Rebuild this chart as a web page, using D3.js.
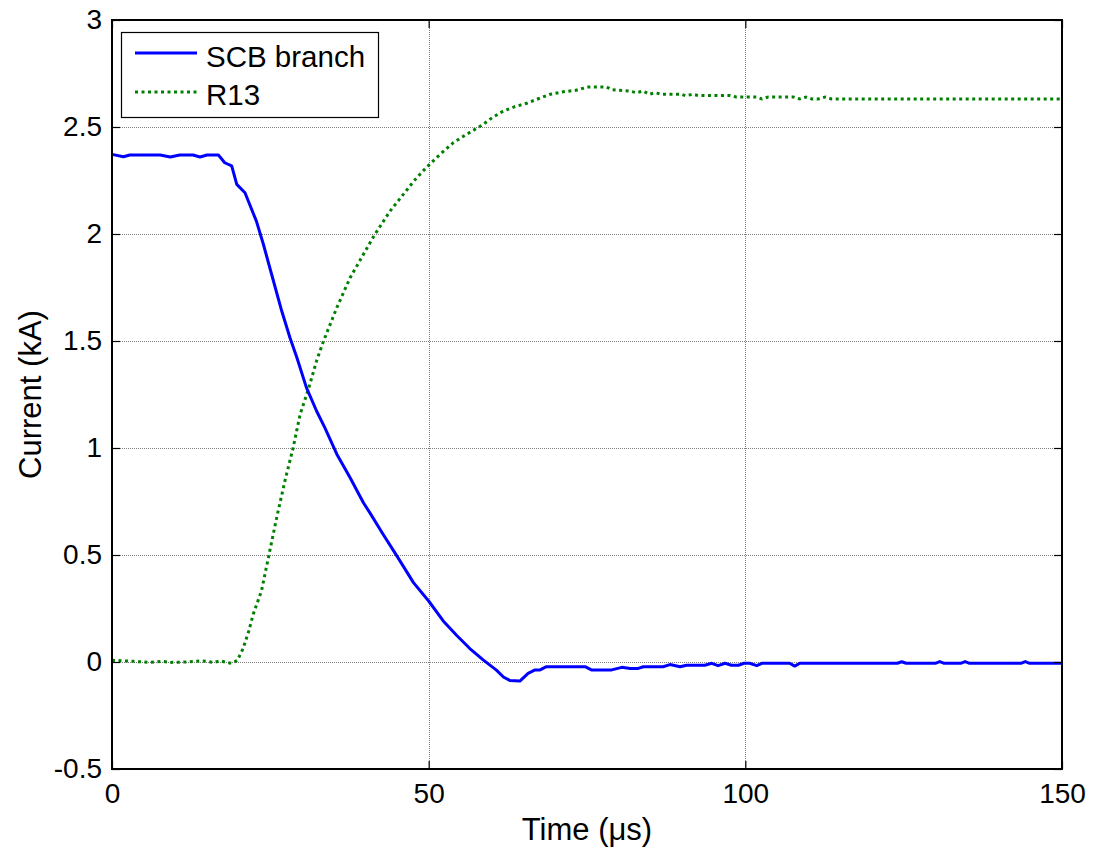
<!DOCTYPE html>
<html>
<head>
<meta charset="utf-8">
<script src="https://cdn.jsdelivr.net/npm/d3@7"></script>
<style>
  body { margin: 0; background: #fff; }
  text { font-family: Arial, "Liberation Sans", sans-serif; fill: #000; }
</style>
</head>
<body>
<svg id="chart" width="1094" height="847"></svg>
<script>
// ---- data ----
const scbTime = [0, 1.8, 2.8, 7.6, 9.2, 10.7, 12.8, 13.9, 15, 16.8, 17.8, 18.9, 19.7, 21, 22.8, 23.9, 25.2, 26.8, 28.1, 29.2, 30.7, 32.3, 33.6, 35.5, 37.6, 39.7, 40.7, 42.8, 45, 47.6, 50, 52.3, 54.4, 56.5, 58.6, 60.7, 61.8, 62.8, 64.4, 65.7, 66.8, 67.6, 68.6, 74.7, 75.7, 78.9, 80.5, 81.8, 83.1, 83.9, 87, 88.1, 89.7, 90.7, 93.6, 94.7, 95.7, 96.8, 97.8, 98.9, 99.8, 100.7, 101.8, 102.6, 105.5, 107, 107.8, 108.6, 124, 124.7, 125.4, 130, 130.7, 131.4, 134, 134.7, 135.4, 143.5, 144.2, 144.9, 150];
const scbCurrent = [2.372, 2.361, 2.369, 2.369, 2.36, 2.369, 2.369, 2.36, 2.369, 2.369, 2.333, 2.318, 2.232, 2.193, 2.06, 1.952, 1.812, 1.64, 1.515, 1.422, 1.282, 1.173, 1.095, 0.971, 0.861, 0.744, 0.698, 0.597, 0.495, 0.371, 0.285, 0.192, 0.125, 0.063, 0.01, -0.038, -0.07, -0.086, -0.089, -0.053, -0.037, -0.037, -0.022, -0.022, -0.037, -0.037, -0.025, -0.03, -0.03, -0.022, -0.022, -0.012, -0.022, -0.015, -0.015, -0.006, -0.017, -0.006, -0.015, -0.015, -0.006, -0.006, -0.017, -0.006, -0.006, -0.006, -0.019, -0.006, -0.006, 0.001, -0.006, -0.006, 0.002, -0.006, -0.006, 0.002, -0.006, -0.006, 0.002, -0.006, -0.006];

const r13Time = [0, 3.4, 6, 8.1, 9.2, 12, 13.9, 15, 16, 17.1, 18.1, 18.9, 19.8, 20.7, 21.6, 22.3, 23.6, 24.8, 26, 27.3, 28.6, 29.7, 31, 32.3, 33.4, 35.5, 37.6, 39.7, 41.5, 43.9, 46, 47.7, 49.7, 51.8, 53.9, 56, 58.4, 60, 61.8, 63.6, 65.5, 67.3, 69.2, 71.3, 73.1, 75.2, 78.1, 78.9, 81.8, 82.8, 83.9, 84.8, 85.7, 86.8, 89.9, 90.6, 91.7, 92.6, 97.6, 98.6, 101.8, 102.6, 103.6, 107.6, 108.6, 109.6, 110.5, 111.5, 112.6, 113.6, 150];
const r13Current = [0.008, 0.003, -0.002, 0.003, -0.002, 0, 0.005, 0.003, -0.002, 0.005, -0.002, -0.006, 0.008, 0.063, 0.145, 0.223, 0.332, 0.503, 0.674, 0.846, 1.001, 1.157, 1.274, 1.407, 1.5, 1.656, 1.796, 1.905, 1.998, 2.107, 2.185, 2.249, 2.313, 2.372, 2.427, 2.466, 2.508, 2.543, 2.575, 2.595, 2.611, 2.632, 2.653, 2.665, 2.671, 2.687, 2.687, 2.674, 2.668, 2.66, 2.668, 2.653, 2.66, 2.653, 2.653, 2.646, 2.653, 2.647, 2.647, 2.64, 2.64, 2.631, 2.64, 2.64, 2.631, 2.64, 2.631, 2.631, 2.64, 2.631, 2.631];

const xTicks = [0, 50, 100, 150];
const yTicks = [-0.5, 0, 0.5, 1, 1.5, 2, 2.5, 3];
const yTickLabels = ["-0.5", "0", "0.5", "1", "1.5", "2", "2.5", "3"];
const seriesNames = ["SCB branch", "R13"];
const seriesColors = ["#0000ff", "#008000"];
const xLabel = "Time (\u03bcs)";
const yLabel = "Current (kA)";

// ---- layout ----
const svg = d3.select("#chart");
const L = 112, R = 1062, T = 20, B = 769;
const x = d3.scaleLinear().domain([0, 150]).range([L, R]);
const y = d3.scaleLinear().domain([-0.5, 3]).range([B, T]);

// grid
const grid = svg.append("g").attr("stroke", "#808080").attr("stroke-width", 1)
  .attr("stroke-dasharray", "1,1").attr("shape-rendering", "crispEdges");
grid.selectAll("line.gx").data(xTicks.slice(1, -1)).join("line")
  .attr("x1", d => Math.round(x(d)) + 0.5).attr("x2", d => Math.round(x(d)) + 0.5)
  .attr("y1", T).attr("y2", B);
grid.selectAll("line.gy").data(yTicks.slice(1, -1)).join("line")
  .attr("y1", d => Math.round(y(d)) + 0.5).attr("y2", d => Math.round(y(d)) + 0.5)
  .attr("x1", L).attr("x2", R);

// series
const line = d3.line().x(d => x(d[0])).y(d => y(d[1]));
const scbData = scbTime.map((t, i) => [t, scbCurrent[i]]);
const r13Data = r13Time.map((t, i) => [t, r13Current[i]]);

svg.append("path").datum(r13Data).attr("d", line)
  .attr("fill", "none").attr("stroke", seriesColors[1]).attr("stroke-width", 3)
  .attr("stroke-dasharray", "3,3.5");
svg.append("path").datum(scbData).attr("d", line)
  .attr("fill", "none").attr("stroke", seriesColors[0]).attr("stroke-width", 3)
  .attr("stroke-linejoin", "round");

// axes (inward ticks, box)
const fs = 28;
const axL = svg.append("g").attr("transform", `translate(${L},0)`)
  .call(d3.axisLeft(y).tickValues(yTicks).tickFormat((d, i) => yTickLabels[i]).tickSize(-8).tickPadding(10));
const axR = svg.append("g").attr("transform", `translate(${R},0)`)
  .call(d3.axisRight(y).tickValues(yTicks).tickFormat("").tickSize(-8));
const axB = svg.append("g").attr("transform", `translate(0,${B})`)
  .call(d3.axisBottom(x).tickValues(xTicks).tickSize(-8).tickPadding(14));
const axT = svg.append("g").attr("transform", `translate(0,${T})`)
  .call(d3.axisTop(x).tickValues(xTicks).tickFormat("").tickSize(-8));
[axL, axR, axB, axT].forEach(g => {
  g.select(".domain").remove();
  g.selectAll(".tick line").attr("stroke", "#000").attr("stroke-width", 1.2);
  g.selectAll("text").attr("font-size", fs).attr("font-family", "Arial, 'Liberation Sans', sans-serif").attr("fill", "#000");
});
svg.append("rect").attr("x", L).attr("y", T).attr("width", R - L).attr("height", B - T)
  .attr("fill", "none").attr("stroke", "#000").attr("stroke-width", 2);

// axis labels
const lfs = 31;
svg.append("text").attr("x", (L + R) / 2).attr("y", 840).attr("text-anchor", "middle")
  .attr("font-size", lfs).text(xLabel);
svg.append("text").attr("transform", `translate(41,${(T + B) / 2}) rotate(-90)`)
  .attr("text-anchor", "middle").attr("font-size", lfs).text(yLabel);

// legend
const lg = svg.append("g");
lg.append("rect").attr("x", 121.5).attr("y", 32.5).attr("width", 257).attr("height", 85)
  .attr("fill", "#fff").attr("stroke", "#000").attr("stroke-width", 1.2);
const legY = [53, 92];
const legText = [67, 105];
seriesNames.forEach((name, i) => {
  lg.append("line").attr("x1", 135).attr("x2", 197).attr("y1", legY[i]).attr("y2", legY[i])
    .attr("stroke", seriesColors[i]).attr("stroke-width", 3)
    .attr("stroke-dasharray", i === 1 ? "3,3.5" : null);
  lg.append("text").attr("x", 206).attr("y", legText[i]).attr("font-size", 29.5).text(name);
});
</script>
</body>
</html>
